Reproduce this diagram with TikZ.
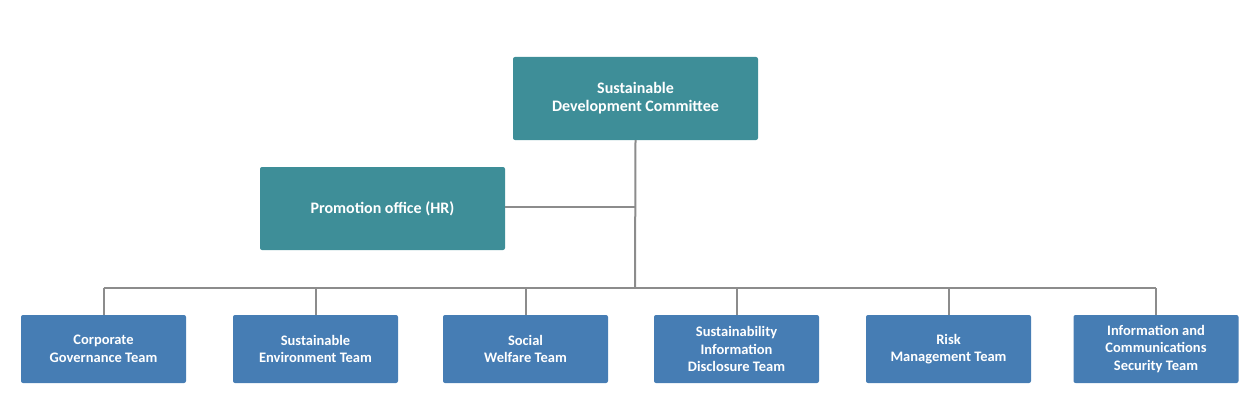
\documentclass[tikz,border=0pt]{standalone}
\usepackage{fontspec}
\setmainfont{Carlito}
\usetikzlibrary{positioning}
\definecolor{teal1}{HTML}{3E8E98}
\definecolor{blue1}{HTML}{467DB4}
\definecolor{line1}{HTML}{8C8C8C}
\tikzset{
  topbox/.style={fill=teal1, rounded corners=2pt, text=white, font=\bfseries\fontsize{16}{18}\selectfont, align=center, minimum width=245pt, minimum height=83pt, inner sep=0pt},
  teambox/.style={fill=blue1, rounded corners=2pt, text=white, font=\bfseries\fontsize{14.5}{17.5}\selectfont, align=center, minimum width=165pt, minimum height=68pt, inner sep=0pt},
  link/.style={draw=line1, line width=2pt}
}
\begin{document}
\begin{tikzpicture}[x=1pt,y=-1pt]
  \useasboundingbox (0,0) rectangle (1250,420);
  \node [topbox] (sdc) at (635.5,98.5) {Sustainable\\Development Committee};
  \node [topbox] (promo) at (382.5,208.5) {Promotion office (HR)};
  \node [teambox] (t1) at (103.5,349) {Corporate\\Governance Team};
  \node [teambox] (t2) at (315.5,349) {Sustainable\\Environment Team};
  \node [teambox] (t3) at (525.5,349) {Social\\Welfare Team};
  \node [teambox] (t4) at (736.5,349) {Sustainability\\Information\\Disclosure Team};
  \node [teambox] (t5) at (948.5,349) {Risk\\Management Team};
  \node [teambox] (t6) at (1156,349) {Information and\\Communications\\Security Team};
  \coordinate (bus) at (635,288);
  \coordinate (mid) at (635,207);
  \draw [link] (sdc.south) -- (bus);
  \draw [link] (promo.east |- mid) -- (mid);
  \draw [link] (t1.north |- bus) -- (t6.north |- bus);
  \foreach \t in {t1,t2,t3,t4,t5,t6}
    \draw [link] (\t.north |- bus) -- (\t.north);
\end{tikzpicture}
\end{document}
